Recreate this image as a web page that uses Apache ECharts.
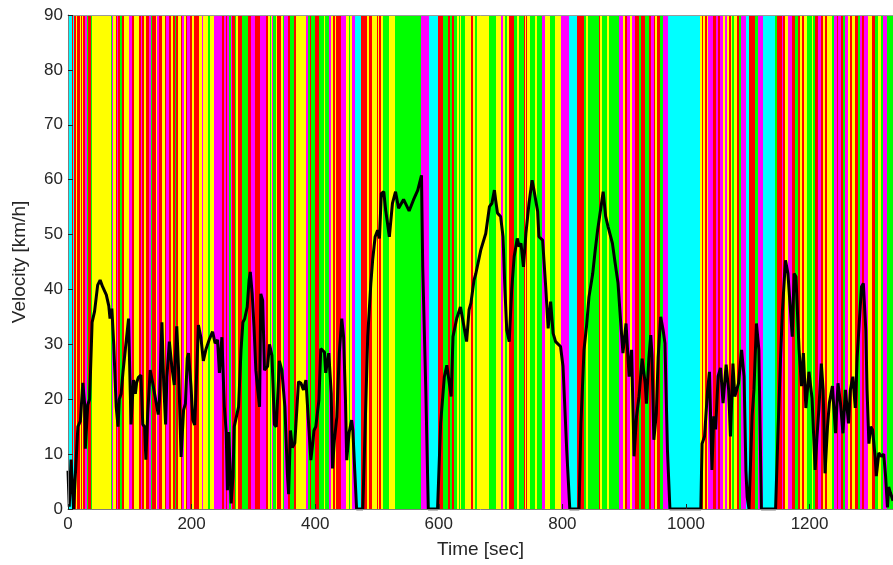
<!DOCTYPE html>
<html>
<head>
<meta charset="utf-8">
<script src="https://cdn.jsdelivr.net/npm/echarts@6/dist/echarts.min.js"></script>
<style>
  html, body { margin: 0; padding: 0; background: #fff; }
  #chart { width: 893px; height: 565px; }
</style>
</head>
<body>
<div id="chart"></div>
<script>
// driving mode bands: start time of each band [sec], band ends where the next starts
var bandStarts = [
  0, 1.3, 6.7, 8.9, 11, 13.2, 14.8, 19.7, 21.8, 24,
  25.6, 28.3, 31.5, 33.7, 38, 39.6, 69.8, 71.4, 74.1, 77.9,
  80, 82.2, 85.4, 88.7, 91.4, 99.4, 103.8, 107.5, 115.6, 118.3,
  121, 123.7, 126.4, 131.8, 134.5, 137.2, 142.6, 145.2, 147.9, 153.3,
  157.6, 159.8, 164.1, 166.8, 170.6, 173.8, 176, 179.2, 183, 185.6,
  188.3, 191, 193.7, 197.5, 200.7, 204.5, 212.6, 216.9, 219.1, 227.7,
  229.9, 236.9, 250.4, 253, 255.7, 258.4, 261.1, 263.8, 266.5, 270.8,
  273, 276.2, 282.7, 292.4, 296.2, 303.2, 312.3, 321.5, 324.7, 326.9,
  329, 331.2, 333.3, 336.6, 338.7, 345.2, 348.4, 350.6, 357, 360.8,
  366.2, 370.5, 386.1, 389.4, 393.1, 394.8, 401.2, 406.6, 414.7, 417.4,
  422.8, 427.1, 429.3, 432.5, 434.7, 443.3, 450.8, 455.1, 457.8, 460.5,
  464.8, 475.6, 485.3, 488.5, 492.9, 500.9, 502.6, 504.7, 506.9, 510.1,
  519.8, 529.5, 571.6, 584.5, 599, 607.1, 615.8, 619.5, 622.2, 624.9,
  630.3, 633, 635.7, 637.3, 643.8, 653.5, 655.6, 660, 662.1, 681.5,
  693.4, 700.9, 704.1, 708.5, 711.7, 714.9, 721.9, 727.3, 731.1, 738.1,
  739.7, 741.9, 743.5, 748.9, 757, 759.7, 767.8, 773.1, 781.2, 788.2,
  799, 810.9, 824.3, 835.1, 838.9, 842.1, 859.4, 862.1, 864.8, 872.9,
  876.6, 891.7, 898.2, 901.4, 905.2, 910.6, 913.3, 917.6, 924.1, 928.4,
  934.8, 941.3, 944.5, 948.3, 951, 953.7, 959, 964.4, 972.5, 1023.7,
  1026.4, 1029.1, 1031.8, 1034.5, 1037.2, 1045.2, 1049, 1052.2, 1056, 1061.4,
  1064.1, 1066.8, 1070.6, 1073.8, 1076, 1079.2, 1083, 1086.7, 1090, 1097.5,
  1102.9, 1112.6, 1116.9, 1126.1, 1145, 1147.7, 1155.7, 1158.4, 1161.1, 1165.4,
  1171.9, 1177.3, 1181.6, 1185.4, 1188.1, 1192.4, 1196.2, 1204.2, 1206.9, 1209.6,
  1213.9, 1219.3, 1223.1, 1225.8, 1228.5, 1236.6, 1240.9, 1244.7, 1247.4, 1251.7,
  1255.5, 1258.1, 1262.5, 1266.2, 1270, 1274.3, 1278.6, 1282.4, 1286.2, 1289.4,
  1295.9, 1301.3, 1306.7, 1312, 1316.4, 1320.1, 1325.5
];
// R red, Y yellow, G green, M magenta, C cyan (one letter per band, 10 per row)
var bandModes = (
  'MCRCRYRYRY' + 'RMGRGYGMYR' + 'MRGRYMRYRM' + 'RYRMGRYMRY' + 'RMRYRGRYRM' +
  'YRMRYRYMYG' + 'YMRMRMGMRG' + 'YRGRMRMRYG' + 'YMGYRYGMRG' + 'RYMGRGRGYG' +
  'MYRYRMYGYM' + 'CRYRYRYRYG' + 'YGMCRGRGRG' + 'YGYGYRYGYG' + 'YMYGYRGYGR' +
  'YRYGYGMYGY' + 'MCRGYGRYGY' + 'GMYRMYMRGR' + 'GRMRYRGMCY' + 'RYRYMRMRMY' +
  'MYRYGYRGMC' + 'RGMCGRMRYM' + 'RGRYRYGYGR' + 'MRYRYGMRMR' + 'GMYRYRGMRM' +
  'YRGYGMG'
).split('');
var modeColors = { R: '#ff0000', Y: '#ffff00', G: '#00ff00', M: '#ff00ff', C: '#00ffff' };

// velocity trace
var timeSec = [
  0, 2, 5, 9, 11, 16, 20, 24, 27, 28, 32, 35, 39, 43, 48, 52, 56, 62, 66, 68,
  71, 74, 78, 81, 83, 86, 89, 98, 102, 106, 109, 111, 114, 118, 121, 124, 126, 129, 133, 137,
  142, 146, 148, 152, 155, 158, 160, 164, 168, 172, 176, 179, 183, 187, 190, 193, 195, 199, 202, 205,
  207, 211, 215, 219, 223, 229, 234, 238, 242, 245, 249, 253, 256, 258, 260, 262, 264, 267, 269, 276,
  280, 283, 286, 290, 293, 295, 298, 301, 304, 307, 310, 312, 315, 318, 323, 326, 330, 334, 337, 340,
  342, 346, 351, 355, 357, 360, 363, 367, 373, 377, 381, 385, 390, 393, 396, 398, 401, 406, 409, 415,
  417, 422, 426, 428, 431, 435, 439, 443, 446, 449, 451, 455, 459, 461, 464, 467, 477, 481, 485, 488,
  490, 493, 497, 501, 504, 507, 511, 514, 520, 525, 530, 535, 543, 552, 559, 566, 572, 574, 579, 583,
  598, 603, 609, 613, 616, 620, 623, 629, 635, 638, 645, 649, 652, 657, 660, 668, 676, 682, 686, 690,
  692, 695, 700, 704, 707, 710, 714, 718, 722, 727, 730, 733, 737, 741, 746, 751, 754, 760, 762, 768,
  773, 777, 781, 785, 789, 797, 801, 807, 812, 827, 830, 835, 839, 843, 849, 853, 857, 859, 866, 870,
  874, 881, 885, 890, 894, 898, 903, 908, 912, 916, 920, 924, 929, 934, 936, 940, 943, 945, 948, 952,
  955, 959, 963, 966, 970, 974, 1024, 1026, 1030, 1035, 1038, 1042, 1045, 1048, 1052, 1056, 1060, 1065, 1069, 1072,
  1076, 1079, 1085, 1090, 1094, 1097, 1099, 1102, 1107, 1110, 1114, 1118, 1122, 1145, 1149, 1153, 1156, 1161, 1165, 1168,
  1172, 1175, 1178, 1183, 1187, 1190, 1194, 1199, 1204, 1209, 1212, 1215, 1219, 1222, 1225, 1229, 1232, 1237, 1242, 1246,
  1250, 1254, 1258, 1263, 1266, 1270, 1274, 1277, 1280, 1284, 1287, 1291, 1293, 1296, 1299, 1302, 1306, 1308, 1312, 1316,
  1320, 1323, 1326, 1328, 1331, 1335
];
var velocity = [
  7, 0.4, 9, 0, 0, 15, 16, 23, 19, 11, 19, 20, 34, 36, 40.8, 41.7, 40.5, 39, 37, 34.7,
  36.5, 30, 18.6, 15, 20, 21, 25, 34.7, 15.4, 23.5, 21, 23, 24, 24.4, 15.4, 15, 9, 17.4, 25.3, 23,
  19.8, 17.2, 19.8, 34, 22.4, 15.4, 24, 30.5, 26, 22.6, 33.3, 25.3, 9.5, 18, 19.2, 27.5, 28.4, 22.4, 16.2, 15.3,
  21, 33.5, 31.3, 27, 29, 31, 32.3, 30.2, 30.8, 24.8, 31.3, 18.6, 14, 3.4, 14, 8, 1, 6, 15, 18.6,
  29, 34, 34.7, 36.8, 41.7, 43.2, 39.3, 33.2, 25.3, 21.7, 18.6, 39.2, 38, 25.3, 26, 30, 28, 15.4, 15, 22,
  27, 25.3, 18.6, 6.4, 2.7, 14.3, 11.2, 12, 23.2, 22.9, 21.7, 23.5, 14.3, 8.9, 11.9, 14.3, 15, 19.8, 29.2, 28.6,
  24.8, 28.4, 21, 7.4, 12.5, 16.8, 28.4, 34.7, 31.3, 19.8, 8.9, 14, 16.2, 14.3, 7, 0, 0, 15.6, 31.4, 31.5,
  41, 45.4, 49.6, 50.8, 49.3, 57.5, 57.8, 54.5, 49.6, 55.7, 57.8, 54.8, 56.4, 54.3, 56.3, 58.1, 60.8, 44.1, 21.7, 0,
  0, 15.6, 24.1, 26.2, 26.5, 20.5, 31.4, 34.7, 36.8, 35, 30.5, 36.3, 37.5, 41.7, 42.9, 47.2, 50.2, 55.1, 55.7, 58.1,
  56.3, 53.9, 53.3, 49.6, 40, 32.6, 30.5, 40, 46, 49.3, 47.8, 48.4, 44.1, 50.2, 55.7, 59.9, 58.1, 54.2, 49.6, 49,
  40.5, 32.9, 37.8, 32, 30.5, 29.6, 26, 10.8, 0, 0, 15.6, 29, 33.2, 38.6, 42.8, 47, 50.8, 51.1, 57.8, 53.3,
  51.4, 48.4, 45.1, 41.2, 34.6, 28.4, 33.8, 24.1, 29, 9.6, 16.9, 20.5, 27.4, 22.9, 19.2, 27.6, 31.7, 28, 12.6, 17.4,
  27.6, 35, 32.6, 30.2, 10.8, 0, 0, 11.9, 13.2, 21.7, 25, 7.1, 16.9, 14.5, 24.2, 25.7, 19.3, 26.3, 21.7, 13.2,
  26.5, 20.5, 22.9, 29, 24.1, 7, 2.2, 0, 16.9, 21.7, 33.8, 29, 0, 0, 14.4, 27.4, 36, 45.3, 42.9, 43,
  31.4, 42.9, 42.3, 29, 22.4, 28.4, 18.4, 25, 20.2, 7.1, 13.2, 18.1, 26.5, 21.7, 6.5, 15, 19.3, 22.4, 13.8, 22.9,
  19.3, 13.8, 21.7, 15.6, 21.7, 24.1, 18.4, 27.6, 33.2, 40.5, 41.1, 32.6, 21.7, 11.9, 15, 14.4, 9.6, 6, 10.2, 9.6,
  10, 6, 0.3, 4, 2.9, 1.5
];

var xMax = 1335;
var yMax = 90;

var bandData = [];
for (var i = 0; i < bandStarts.length; i++) {
  var end = i + 1 < bandStarts.length ? bandStarts[i + 1] : xMax;
  bandData.push([bandStarts[i], end, bandModes[i]]);
}
var lineData = [];
for (var j = 0; j < timeSec.length; j++) {
  lineData.push([timeSec[j], velocity[j]]);
}

var chart = echarts.init(document.getElementById('chart'));
var axisColor = '#262626';
var labelFont = 'Liberation Sans, Arial, sans-serif';

chart.setOption({
  animation: false,
  grid: { left: 68, right: 0, top: 15, bottom: 56 },
  xAxis: [{
    type: 'value',
    min: 0,
    max: xMax,
    interval: 200,
    z: 10,
    name: 'Time [sec]',
    nameLocation: 'middle',
    nameGap: 31,
    nameTextStyle: { fontFamily: labelFont, fontSize: 19, color: axisColor },
    axisLine: { show: true, lineStyle: { color: '#7f7f7f', width: 1 } },
    axisTick: { show: true, inside: true, length: 5, lineStyle: { color: axisColor } },
    axisLabel: {
      fontFamily: labelFont, fontSize: 17, color: axisColor, margin: 7, showMaxLabel: false,
      formatter: function (v) { return String(v); }
    },
    splitLine: { show: false }
  }, {
    type: 'value',
    position: 'top',
    min: 0,
    max: xMax,
    interval: 200,
    z: 10,
    axisLine: { show: true, lineStyle: { color: '#9a9a9a', width: 1 } },
    axisTick: { show: false },
    axisLabel: { show: false },
    splitLine: { show: false }
  }],
  yAxis: {
    type: 'value',
    min: 0,
    max: yMax,
    interval: 10,
    z: 10,
    name: 'Velocity [km/h]',
    nameLocation: 'middle',
    nameGap: 39,
    nameTextStyle: { fontFamily: labelFont, fontSize: 19, color: axisColor },
    axisLine: { show: true, lineStyle: { color: '#7f7f7f', width: 1 } },
    axisTick: { show: true, inside: true, length: 5, lineStyle: { color: axisColor } },
    axisLabel: { fontFamily: labelFont, fontSize: 17, color: axisColor, margin: 5 },
    splitLine: { show: false }
  },
  series: [{
    type: 'custom',
    z: 1,
    silent: true,
    data: bandData,
    encode: { x: [0, 1] },
    renderItem: function (params, api) {
      var p0 = api.coord([api.value(0), yMax]);
      var p1 = api.coord([api.value(1), 0]);
      var x0 = Math.floor(p0[0]);
      var x1 = Math.ceil(p1[0]);
      return {
        type: 'rect',
        shape: { x: x0, y: p0[1], width: Math.max(1, x1 - x0), height: p1[1] - p0[1] },
        style: { fill: modeColors[bandData[params.dataIndex][2]] }
      };
    }
  }, {
    type: 'line',
    z: 5,
    data: lineData,
    showSymbol: false,
    symbol: 'none',
    lineStyle: { color: '#000', width: 3 }
  }]
});
</script>
</body>
</html>
